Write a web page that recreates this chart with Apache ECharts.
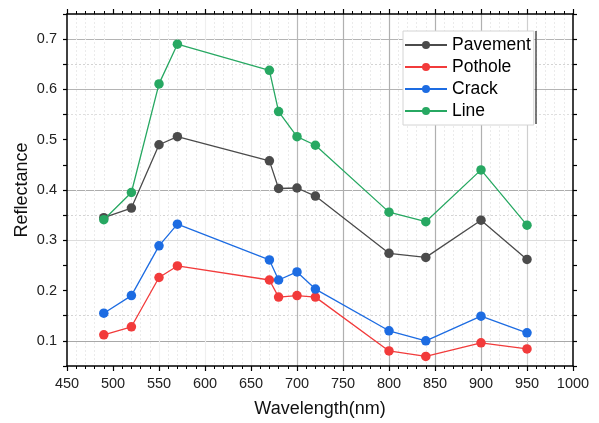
<!DOCTYPE html>
<html>
<head>
<meta charset="utf-8">
<script src="https://cdn.jsdelivr.net/npm/echarts@6/dist/echarts.min.js"></script>
<style>
html,body{margin:0;padding:0;background:#fff;}
#chart{width:599px;height:423px;}
</style>
</head>
<body>
<div id="chart"></div>
<script>
const wavelengths = [490, 520, 550, 570, 670, 680, 700, 720, 800, 840, 900, 950];
const pavement = [0.345, 0.364, 0.490, 0.506, 0.458, 0.403, 0.404, 0.388, 0.274, 0.266, 0.340, 0.262];
const pothole  = [0.112, 0.128, 0.226, 0.249, 0.221, 0.187, 0.190, 0.187, 0.080, 0.069, 0.096, 0.084];
const crack    = [0.155, 0.190, 0.289, 0.332, 0.261, 0.221, 0.237, 0.203, 0.120, 0.100, 0.149, 0.116];
const line     = [0.341, 0.395, 0.611, 0.690, 0.638, 0.556, 0.506, 0.489, 0.356, 0.337, 0.440, 0.330];
const seriesNames = ['Pavement', 'Pothole', 'Crack', 'Line'];
const seriesValues = [pavement, pothole, crack, line];
const seriesColors = ['#4b4b4b', '#f23b3b', '#1d6ce2', '#27a862'];

const FONT = '"Liberation Sans", Arial, sans-serif';
const chart = echarts.init(document.getElementById('chart'), null, {renderer: 'canvas'});

function pairs(vals) { return wavelengths.map((w, i) => [w, vals[i]]); }

const yLabelFmt = v => (Math.round(v * 100) % 10 === 0 ? v.toFixed(1) : '');
const xLabelFmt = v => String(Math.round(v));
const T = 'rgba(0,0,0,0)';

const option = {
  backgroundColor: '#fff',
  animation: false,
  grid: {left: 67, right: 26, top: 14, bottom: 56},
  legend: {
    data: seriesNames,
    left: 403, top: 31,
    orient: 'vertical',
    backgroundColor: '#fff',
    borderColor: '#d4d4d4', borderWidth: 1,
    padding: [5, 3, 5, 1],
    itemWidth: 42, itemHeight: 10, itemGap: 4,
    textStyle: {fontFamily: FONT, fontSize: 17.5, color: '#000', padding: [0, 0, 0, 0]}
  },
  xAxis: [{
    type: 'value', min: 450, max: 1000, interval: 50,
    name: 'Wavelength(nm)', nameLocation: 'middle', nameGap: 34,
    nameTextStyle: {fontFamily: FONT, fontSize: 18, color: '#111'},
    axisLine: {show: true, onZero: false, lineStyle: {color: '#000', width: 1.5}},
    axisTick: {show: true, inside: false, length: 5, lineStyle: {color: '#000', width: 1.2}},
    minorTick: {show: true, splitNumber: 5, length: 3, lineStyle: {color: '#000', width: 1}},
    axisLabel: {fontFamily: FONT, fontSize: 14.5, color: '#222', margin: 10, formatter: xLabelFmt},
    splitLine: {show: true, showMinLine: true, showMaxLine: true, lineStyle: {type: 'solid', width: 1.2,
      color: [T, T, '#f2f2f2', '#efefef', '#eaeaea', '#b8b8b8', '#b0b0b0', '#b0b0b0', '#b0b0b0', '#b0b0b0', '#cfcfcf', T]}},
    minorSplitLine: {show: true, lineStyle: {type: [2, 2], color: '#ebebeb', width: 1}}
  }, {
    type: 'value', min: 450, max: 1000, interval: 50, position: 'top',
    axisLine: {show: true, onZero: false, lineStyle: {color: '#000', width: 1.5}},
    axisTick: {show: true, inside: false, length: 5, lineStyle: {color: '#000', width: 1.2}},
    minorTick: {show: true, splitNumber: 5, length: 3, lineStyle: {color: '#000', width: 1}},
    axisLabel: {show: false},
    splitLine: {show: false}
  }],
  yAxis: [{
    type: 'value', min: 0.05, max: 0.75, interval: 0.05,
    name: 'Reflectance', nameLocation: 'middle', nameGap: 36, nameMoveOverlap: false,
    nameTextStyle: {fontFamily: FONT, fontSize: 18, color: '#111'},
    axisLine: {show: true, onZero: false, lineStyle: {color: '#000', width: 1.5}},
    axisTick: {show: true, inside: false, length: 4, lineStyle: {color: '#000', width: 1.2}},
    axisLabel: {fontFamily: FONT, fontSize: 14.5, color: '#222', margin: 10, formatter: yLabelFmt},
    splitLine: {show: true, showMinLine: true, showMaxLine: true, lineStyle: {type: 'solid', width: 1.2,
      color: [T, '#a8a8a8', T, T, T, '#dcdcdc', T, '#acacac', T, T, T, '#b4b4b4', T, '#b4b4b4', T]}}
  }, {
    type: 'value', min: 0.05, max: 0.75, interval: 0.05, position: 'right',
    axisLine: {show: true, onZero: false, lineStyle: {color: '#000', width: 1.5}},
    axisTick: {show: true, inside: false, length: 4, lineStyle: {color: '#000', width: 1.2}},
    axisLabel: {show: false},
    splitLine: {show: true, showMinLine: true, showMaxLine: true, lineStyle: {type: [2, 2], width: 1,
      color: [T, T, '#d4d4d4', T, T, T, '#d4d4d4', T, T, T, '#dedede', T, '#d4d4d4', T, T]}}
  }],
  graphic: [{
    type: 'line', z: 100,
    shape: {x1: 536, y1: 31, x2: 536, y2: 124},
    style: {stroke: '#222', lineWidth: 1.2}
  }],
  series: seriesNames.map((n, i) => ({
    name: n, type: 'line', xAxisIndex: 0, yAxisIndex: 0,
    data: pairs(seriesValues[i]),
    symbol: 'circle', symbolSize: 9.5,
    itemStyle: {color: seriesColors[i]},
    lineStyle: {color: seriesColors[i], width: 1.3},
    z: 10 + i
  }))
};
chart.setOption(option);
</script>
</body>
</html>
